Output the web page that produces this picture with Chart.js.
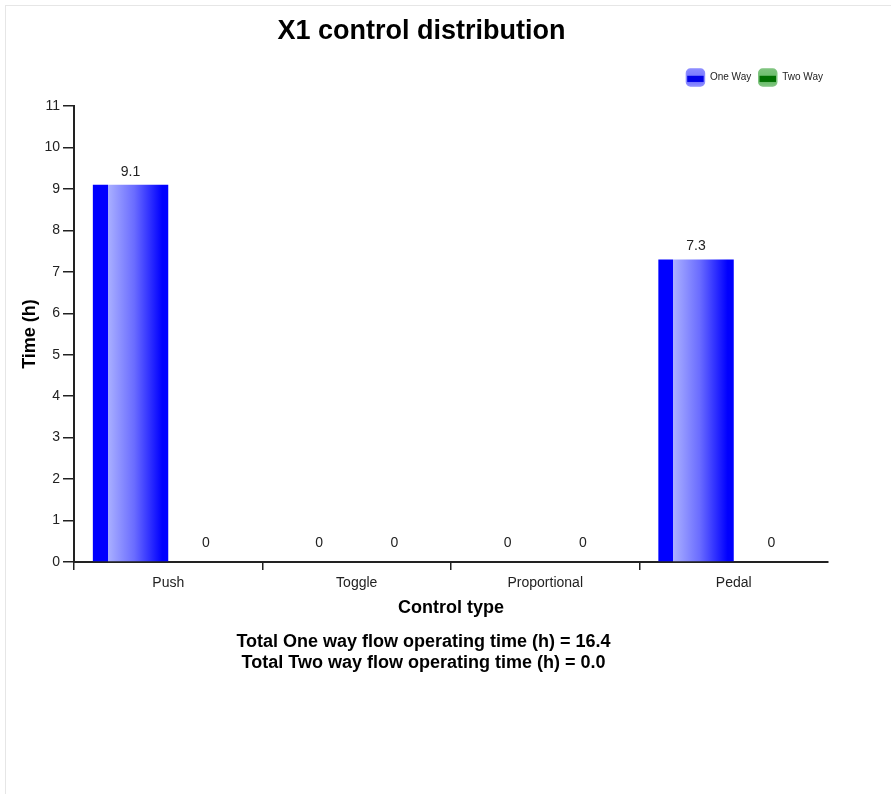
<!DOCTYPE html>
<html>
<head>
<meta charset="utf-8">
<title>X1 control distribution</title>
<script src="https://cdn.jsdelivr.net/npm/chart.js@4.4.0/dist/chart.umd.min.js"></script>
<style>
  html, body { margin: 0; padding: 0; background: #fff; overflow: hidden; }
  #frame { position: absolute; left: 5px; top: 5px; width: 1200px; height: 1200px; border: 1px solid #e6e6e6; }
  #wrap { position: absolute; left: 0; top: 0; width: 891px; height: 794px; }
</style>
</head>
<body>
<div id="frame"></div>
<div id="wrap"><canvas id="chart"></canvas></div>
<script>
// Operating time per control type (hours)
const categories = ['Push', 'Toggle', 'Proportional', 'Pedal'];
const seriesNames = ['One Way', 'Two Way'];
const oneWay = [9.1, 0, 0, 7.3];
const twoWay = [0, 0, 0, 0];
const yTickValues = [0, 1, 2, 3, 4, 5, 6, 7, 8, 9, 10, 11];

const FONT = '"Liberation Sans", Arial, Helvetica, sans-serif';
const INK = '#222';

// colour set for each series: base, highlight, mid tone, swatch edge/top/band
const palette = [
  { base: '#0000ff', light: '#aab0ff', mid: '#6a6cff', edge: '#8c8cff', top: '#7b7bff', band: '#0000e6' },
  { base: '#008000', light: '#a8dca8', mid: '#5cb05c', edge: '#7fc47f', top: '#6fbf6f', band: '#007000' }
];

const sum = arr => arr.reduce((a, b) => a + b, 0);

// Horizontal "glossy" gradient for each bar, built once the bar geometry is known
const barShade = {
  id: 'barShade',
  beforeDatasetsDraw(chart) {
    const ctx = chart.ctx;
    chart.data.datasets.forEach((ds, di) => {
      const meta = chart.getDatasetMeta(di);
      const p = palette[di];
      meta.data.forEach(el => {
        const { x, width } = el.getProps(['x', 'width'], true);
        const left = x - width / 2;
        const g = ctx.createLinearGradient(left, 0, left + width, 0);
        g.addColorStop(0, p.base);
        g.addColorStop(0.2, p.base);
        g.addColorStop(0.2, p.light);
        g.addColorStop(0.55, p.mid);
        g.addColorStop(0.92, p.base);
        g.addColorStop(1, p.base);
        el.options.backgroundColor = g;
      });
    });
  }
};

// Value printed above every bar
const valueLabels = {
  id: 'valueLabels',
  afterDatasetsDraw(chart) {
    const ctx = chart.ctx;
    ctx.save();
    ctx.font = '14px ' + FONT;
    ctx.fillStyle = INK;
    ctx.textAlign = 'center';
    ctx.textBaseline = 'middle';
    chart.data.datasets.forEach((ds, di) => {
      const meta = chart.getDatasetMeta(di);
      meta.data.forEach((el, i) => {
        const v = ds.data[i];
        // zero-height bars get a little more clearance above the axis
        const gap = v > 0 ? 13 : 19;
        ctx.fillText(String(v), el.x, el.y - gap);
      });
    });
    ctx.restore();
  }
};

// Small legend in the upper right corner with rounded glossy swatches
const cornerLegend = {
  id: 'cornerLegend',
  afterDraw(chart) {
    const ctx = chart.ctx;
    const right = chart.chartArea.right - 5;
    const boxW = 19, boxH = 18, boxGap = 5, itemGap = 7;
    const cy = 77.5;
    ctx.save();
    ctx.font = '10px ' + FONT;
    const items = chart.data.datasets.map((ds, i) => ({ text: ds.label, p: palette[i], w: ctx.measureText(ds.label).width }));
    let total = 0;
    items.forEach((it, i) => { total += boxW + boxGap + it.w + (i < items.length - 1 ? itemGap : 0); });
    let x = right - total;
    items.forEach(it => {
      const top = cy - boxH / 2;
      const g = ctx.createLinearGradient(0, top, 0, top + boxH);
      g.addColorStop(0, it.p.edge);
      g.addColorStop(0.38, it.p.top);
      g.addColorStop(0.42, it.p.band);
      g.addColorStop(0.72, it.p.band);
      g.addColorStop(0.78, it.p.top);
      g.addColorStop(1, it.p.edge);
      ctx.beginPath();
      ctx.roundRect(x + 0.5, top + 0.5, boxW - 1, boxH - 1, 4);
      ctx.fillStyle = g;
      ctx.fill();
      ctx.lineWidth = 1.5;
      ctx.strokeStyle = it.p.edge;
      ctx.stroke();
      ctx.fillStyle = INK;
      ctx.textAlign = 'left';
      ctx.textBaseline = 'middle';
      ctx.fillText(it.text, x + boxW + boxGap, cy);
      x += boxW + boxGap + it.w + itemGap;
    });
    ctx.restore();
  }
};

// Totals summary under the x-axis title
const totalsNote = {
  id: 'totalsNote',
  afterDraw(chart) {
    const ctx = chart.ctx;
    const tb = chart.titleBlock;
    const cx = (tb.left + tb.right) / 2 + 2;
    ctx.save();
    ctx.font = 'bold 18px ' + FONT;
    ctx.fillStyle = '#000';
    ctx.textAlign = 'center';
    ctx.textBaseline = 'middle';
    ctx.fillText('Total One way flow operating time (h) = ' + sum(oneWay).toFixed(1), cx, 642);
    ctx.fillText('Total Two way flow operating time (h) = ' + sum(twoWay).toFixed(1), cx, 663);
    ctx.restore();
  }
};

new Chart(document.getElementById('chart'), {
  type: 'bar',
  data: {
    labels: categories,
    datasets: [
      { label: seriesNames[0], data: oneWay, backgroundColor: () => palette[0].base },
      { label: seriesNames[1], data: twoWay, backgroundColor: () => palette[1].base }
    ]
  },
  options: {
    responsive: true,
    maintainAspectRatio: false,
    animation: false,
    events: [],
    layout: { padding: { left: 15, right: 63, top: 0, bottom: 171 } },
    datasets: { bar: { categoryPercentage: 0.8, barPercentage: 1.0, borderWidth: 0 } },
    plugins: {
      legend: { display: false },
      tooltip: { enabled: false },
      title: {
        display: true,
        text: 'X1 control distribution',
        color: '#000',
        font: { family: FONT, size: 27, weight: 'bold' },
        padding: { top: 15, bottom: 58.6 }
      }
    },
    scales: {
      x: {
        offset: true,
        afterFit(scale) { scale.height = 61; },
        border: { display: true, color: INK, width: 2 },
        grid: {
          offset: true,
          drawOnChartArea: false,
          drawTicks: true,
          tickLength: 8,
          lineWidth: 1.5,
          color: c => (c.type === 'tick' ? INK : 'rgba(0,0,0,0)')
        },
        ticks: { color: INK, padding: 5, font: { family: FONT, size: 14 } },
        title: {
          display: true,
          text: 'Control type',
          color: '#000',
          font: { family: FONT, size: 18, weight: 'bold' },
          padding: { top: 4, bottom: 4 }
        }
      },
      y: {
        min: 0,
        max: 11,
        afterFit(scale) { scale.width = 59; },
        afterBuildTicks(scale) { scale.ticks = yTickValues.map(v => ({ value: v })); },
        border: { display: true, color: INK, width: 2 },
        grid: {
          drawOnChartArea: false,
          drawTicks: true,
          tickLength: 11,
          lineWidth: 1.5,
          color: INK
        },
        ticks: { color: INK, padding: 3, font: { family: FONT, size: 14 } },
        title: {
          display: true,
          text: 'Time (h)',
          color: '#000',
          font: { family: FONT, size: 18, weight: 'bold' },
          padding: { top: 4, bottom: 4 }
        }
      }
    }
  },
  plugins: [barShade, valueLabels, cornerLegend, totalsNote]
});
</script>
</body>
</html>
